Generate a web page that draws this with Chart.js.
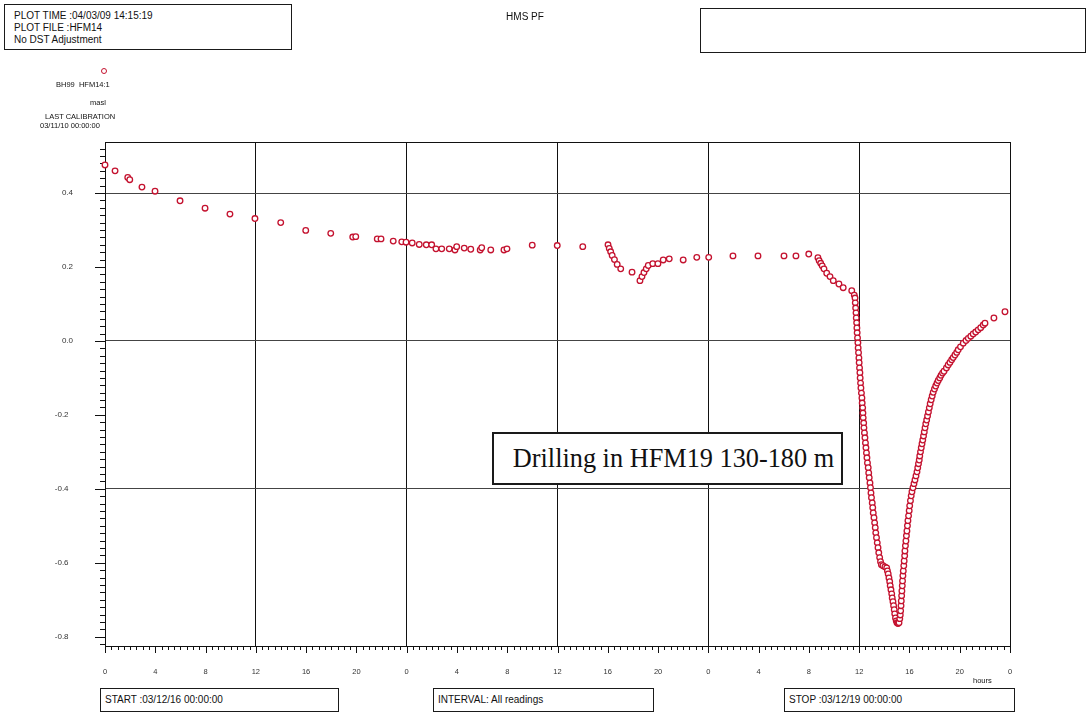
<!DOCTYPE html>
<html>
<head>
<meta charset="utf-8">
<script src="https://cdn.jsdelivr.net/npm/chart.js@4.4.1/dist/chart.umd.min.js"></script>
<style>
  html, body { margin: 0; padding: 0; background: #fff; }
  #wrap { position: relative; width: 1089px; height: 714px; font-family: "Liberation Sans", Arial, sans-serif; color: #111; }
  #c { position: absolute; left: 0; top: 0; }
  .box { position: absolute; border: 1.5px solid #1a1a1a; box-sizing: border-box; background: #fff; }
  .t { position: absolute; white-space: nowrap; }
  .note { font-family: "Liberation Serif", "Times New Roman", serif; font-size: 26.3px; text-align: center; line-height: 50px; border-width: 2px; padding-left: 12px; }
</style>
</head>
<body>
<div id="wrap">
  <canvas id="c" width="1089" height="714"></canvas>

  <div class="box" style="left:4px;top:4px;width:288px;height:46px;font-size:10px;line-height:12px;padding:5px 0 0 9px;">PLOT TIME :04/03/09 14:15:19<br>PLOT FILE :HFM14<br>No DST Adjustment</div>
  <div class="t" style="left:490px;top:11px;width:70px;text-align:center;font-size:10px;">HMS PF</div>
  <div class="box" style="left:700px;top:8px;width:386px;height:45px;"></div>

  <div class="t" style="left:101px;top:68px;width:6px;height:6px;border:1.2px solid #c4122f;border-radius:50%;box-sizing:border-box;"></div>
  <div class="t" style="left:56px;top:80px;font-size:7.5px;">BH99&nbsp; HFM14:1</div>
  <div class="t" style="left:90px;top:98px;font-size:7.5px;">masl</div>
  <div class="t" style="left:45px;top:112px;font-size:7.5px;">LAST CALIBRATION</div>
  <div class="t" style="left:40px;top:121px;font-size:7.5px;">03/11/10 00:00:00</div>

  <div class="t" style="left:973px;top:676px;font-size:7.5px;">hours</div>

  <div class="box" style="left:100px;top:688px;width:239px;height:24px;font-size:10px;line-height:21px;padding-left:4px;">START :03/12/16 00:00:00</div>
  <div class="box" style="left:433px;top:688px;width:221px;height:24px;font-size:10px;line-height:21px;padding-left:4px;">INTERVAL: All readings</div>
  <div class="box" style="left:784px;top:688px;width:231px;height:24px;font-size:10px;line-height:21px;padding-left:4px;">STOP :03/12/19 00:00:00</div>

  <div class="box note" style="left:492px;top:432px;width:351px;height:53px;">Drilling in HFM19 130-180 m</div>
</div>

<script>
// Hours since START (03/12/16 00:00) and groundwater level in HFM14:1 (masl)
const hours = [
  0.0, 0.8, 1.81, 1.97, 2.94, 3.98, 5.97, 7.96, 9.94, 11.93,
  13.98, 15.97, 17.96, 19.71, 19.95, 21.66, 21.96, 22.93, 23.61, 23.95,
  24.44, 25.0, 25.56, 25.99, 26.33, 26.79, 27.39, 27.84, 27.98, 28.58,
  29.10, 29.85, 29.97, 30.69, 31.74, 31.98, 33.99, 35.98, 38.01, 40.02,
  40.12, 40.23, 40.35, 40.53, 40.75, 41.03, 41.93, 42.56, 42.72, 42.88,
  43.06, 43.22, 43.58, 43.99, 44.41, 44.89, 46.0, 47.08, 48.03, 49.96,
  51.95, 54.02, 54.97, 55.99, 56.72, 56.82, 56.94, 57.06, 57.2, 57.42,
  57.68, 57.94, 58.39, 58.73, 59.41, 59.61,
  59.67, 59.69, 59.72, 59.75, 59.77, 59.80, 59.82, 59.84, 59.87, 59.90,
  59.92, 59.95, 59.98, 60.00, 60.03, 60.06, 60.08, 60.11, 60.14, 60.18,
  60.22, 60.24, 60.28, 60.30, 60.32, 60.36, 60.38, 60.42, 60.46, 60.50,
  60.54, 60.58, 60.62, 60.66, 60.72, 60.76, 60.80, 60.86, 60.90, 60.94,
  60.98, 61.04, 61.08, 61.12, 61.18, 61.23, 61.28, 61.32, 61.38, 61.44,
  61.50, 61.56, 61.63, 61.70, 61.77, 61.89, 62.05, 62.19, 62.25, 62.31,
  62.37, 62.43, 62.47, 62.53, 62.59, 62.63, 62.69, 62.74, 62.79, 62.83,
  62.89, 62.95, 63.01, 63.09, 63.17, 63.23, 63.27, 63.30, 63.33, 63.35,
  63.38, 63.40, 63.43, 63.45, 63.48, 63.51, 63.55, 63.58, 63.62, 63.64,
  63.68, 63.72, 63.76, 63.80, 63.84, 63.88, 63.93, 63.98, 64.02, 64.08,
  64.14, 64.20, 64.28, 64.36, 64.44, 64.52, 64.60, 64.66, 64.72, 64.78,
  64.82, 64.88, 64.94, 65.00, 65.06, 65.12, 65.18, 65.24, 65.30, 65.37,
  65.44, 65.51, 65.58, 65.65, 65.73, 65.81, 65.89, 65.99, 66.09, 66.19,
  66.29, 66.41, 66.51, 66.63, 66.75, 66.94, 67.08, 67.22, 67.36, 67.48,
  67.62, 67.76, 67.88, 68.06, 68.28, 68.50, 68.68, 68.88, 69.07, 69.27,
  69.47, 69.67, 69.87, 70.01, 70.72, 71.60
];
const levels = [
  0.476, 0.460, 0.442, 0.436, 0.416, 0.405, 0.379, 0.359, 0.343, 0.331,
  0.320, 0.299, 0.291, 0.281, 0.282, 0.276, 0.276, 0.270, 0.268, 0.267,
  0.265, 0.261, 0.260, 0.260, 0.249, 0.249, 0.249, 0.246, 0.255, 0.251,
  0.248, 0.246, 0.252, 0.246, 0.246, 0.249, 0.259, 0.258, 0.255, 0.260,
  0.250, 0.241, 0.231, 0.220, 0.207, 0.195, 0.186, 0.163, 0.174, 0.185,
  0.195, 0.204, 0.209, 0.209, 0.219, 0.222, 0.219, 0.226, 0.226, 0.230,
  0.230, 0.230, 0.230, 0.235, 0.225, 0.217, 0.210, 0.203, 0.195, 0.183,
  0.174, 0.163, 0.154, 0.144, 0.136, 0.124,
  0.116, 0.103, 0.089, 0.076, 0.062, 0.049, 0.035, 0.022, 0.008, -0.005,
  -0.019, -0.032, -0.046, -0.059, -0.073, -0.086, -0.100, -0.114, -0.127, -0.141,
  -0.154, -0.168, -0.181, -0.195, -0.208, -0.222, -0.235, -0.249, -0.262, -0.276,
  -0.289, -0.303, -0.316, -0.330, -0.343, -0.357, -0.370, -0.384, -0.397, -0.411,
  -0.424, -0.438, -0.451, -0.465, -0.478, -0.492, -0.505, -0.519, -0.532, -0.546,
  -0.559, -0.573, -0.586, -0.597, -0.605, -0.608, -0.611, -0.614, -0.622, -0.630,
  -0.641, -0.651, -0.662, -0.673, -0.684, -0.695, -0.705, -0.716, -0.727, -0.738,
  -0.749, -0.757, -0.762, -0.764, -0.762, -0.751, -0.741, -0.730, -0.716, -0.703,
  -0.689, -0.676, -0.662, -0.649, -0.635, -0.622, -0.608, -0.595, -0.581, -0.568,
  -0.554, -0.541, -0.527, -0.514, -0.500, -0.486, -0.473, -0.459, -0.446, -0.432,
  -0.419, -0.408, -0.397, -0.386, -0.376, -0.365, -0.354, -0.343, -0.332, -0.322,
  -0.311, -0.300, -0.289, -0.278, -0.268, -0.257, -0.246, -0.235, -0.224, -0.214,
  -0.203, -0.192, -0.181, -0.170, -0.159, -0.149, -0.139, -0.130, -0.122, -0.114,
  -0.107, -0.100, -0.093, -0.087, -0.082, -0.073, -0.065, -0.058, -0.051, -0.045,
  -0.038, -0.031, -0.024, -0.016, -0.006, 0.001, 0.007, 0.013, 0.019, 0.024,
  0.030, 0.036, 0.043, 0.048, 0.062, 0.079
];

// Axis layout: 72 h window, level range in masl
const hourRange = [0, 72];
const hourLabelStep = 4;
const hourMinorStep = 0.5;
const hourGridStep = 12;
const levelRange = [-0.825, 0.538];
const levelTicks = [-0.8, -0.6, -0.4, -0.2, 0.0, 0.2, 0.4];
const levelGrid = [-0.4, 0.0, 0.4];
const levelMinorStep = 0.02;

const markColor = '#c4122f';

// Frame around the plot plus the short and long tick marks on both axes
const frameAndTicks = {
  id: 'frameAndTicks',
  beforeDatasetsDraw(chart) {
    const { ctx, chartArea: a, scales: { x, y } } = chart;
    ctx.save();
    ctx.strokeStyle = '#111';
    ctx.lineWidth = 1;
    ctx.beginPath();
    for (let i = 0; i * hourMinorStep <= hourRange[1] + 1e-9; i++) {
      const h = i * hourMinorStep;
      const px = Math.round(x.getPixelForValue(h)) + 0.5;
      const len = Math.abs(h / hourLabelStep - Math.round(h / hourLabelStep)) < 1e-6 ? 7 : 4;
      ctx.moveTo(px, a.bottom);
      ctx.lineTo(px, a.bottom + len);
    }
    const kMin = Math.ceil(levelRange[0] / levelMinorStep - 1e-9);
    const kMax = Math.floor(levelRange[1] / levelMinorStep + 1e-9);
    for (let k = kMin; k <= kMax; k++) {
      const v = k * levelMinorStep;
      const py = Math.round(y.getPixelForValue(v)) + 0.5;
      const len = k % 10 === 0 ? 10 : 5;
      ctx.moveTo(a.left, py);
      ctx.lineTo(a.left - len, py);
    }
    ctx.stroke();
    ctx.strokeRect(Math.round(a.left) + 0.5, Math.round(a.top) + 0.5,
                   Math.round(a.right - a.left), Math.round(a.bottom - a.top));
    ctx.restore();
  }
};

const isMultiple = (v, step) => Math.abs(v / step - Math.round(v / step)) < 1e-6;

new Chart(document.getElementById('c'), {
  type: 'scatter',
  data: {
    datasets: [{
      label: 'BH99 HFM14:1',
      data: hours.map((h, i) => ({ x: h, y: levels[i] })),
      borderColor: markColor,
      backgroundColor: '#ffffff',
      pointRadius: 2.8,
      pointBorderWidth: 1.3,
      pointHoverRadius: 2.8,
      showLine: false,
      clip: false
    }]
  },
  options: {
    responsive: false,
    animation: false,
    devicePixelRatio: 1,
    layout: { padding: { top: 142, right: 79, bottom: 0, left: 0 } },
    plugins: { legend: { display: false }, tooltip: { enabled: false } },
    scales: {
      x: {
        type: 'linear',
        min: hourRange[0],
        max: hourRange[1],
        afterFit(s) { s.height = 68; },
        ticks: {
          stepSize: hourLabelStep,
          autoSkip: false,
          maxRotation: 0,
          padding: 21,
          color: '#333',
          font: { family: 'Liberation Sans, Arial, sans-serif', size: 7.5 },
          callback: v => String(Math.round(v) % 24)
        },
        grid: {
          drawTicks: false,
          lineWidth: 1,
          color: c => {
            const v = c.tick.value;
            return isMultiple(v, hourGridStep) && v > hourRange[0] && v < hourRange[1] ? '#111' : 'rgba(0,0,0,0)';
          }
        },
        border: { display: true, color: '#111', width: 1 }
      },
      y: {
        type: 'linear',
        min: levelRange[0],
        max: levelRange[1],
        afterFit(s) { s.width = 105; },
        afterBuildTicks(s) { s.ticks = levelTicks.map(v => ({ value: v })); },
        ticks: {
          padding: 32,
          color: '#333',
          font: { family: 'Liberation Sans, Arial, sans-serif', size: 8 },
          callback: v => (v < 0 ? v.toFixed(1) + '  ' : Math.abs(v).toFixed(1))
        },
        grid: {
          drawTicks: false,
          lineWidth: 1,
          color: c => levelGrid.some(g => Math.abs(g - c.tick.value) < 1e-6) ? '#444' : 'rgba(0,0,0,0)'
        },
        border: { display: true, color: '#111', width: 1 }
      }
    }
  },
  plugins: [frameAndTicks]
});
</script>
</body>
</html>
